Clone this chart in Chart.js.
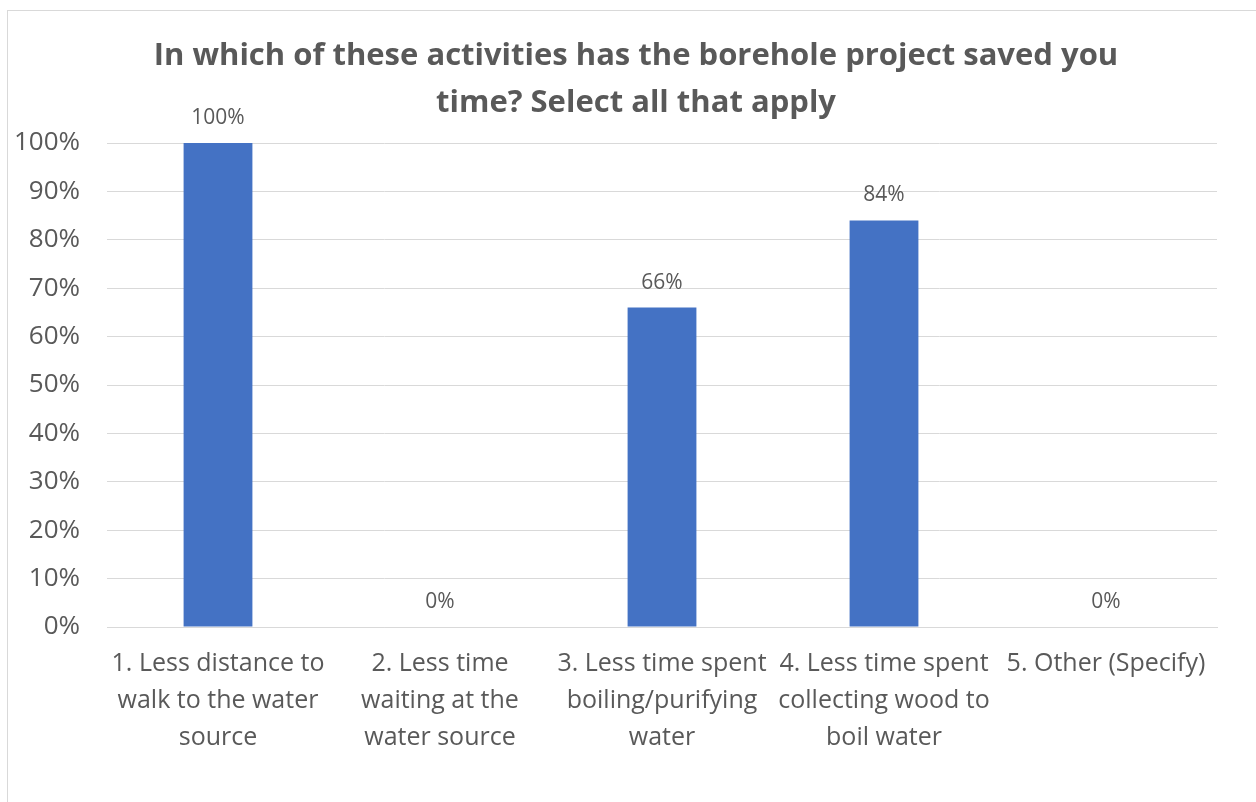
<!DOCTYPE html>
<html>
<head>
<meta charset="utf-8">
<script src="https://cdn.jsdelivr.net/npm/chart.js@4.4.1/dist/chart.umd.min.js"></script>
<style>
  html, body { margin: 0; padding: 0; background: #ffffff; overflow: hidden; }
  #wrap { position: relative; width: 1256px; height: 802px; }
  canvas { display: block; }
</style>
</head>
<body>
<div id="wrap"><canvas id="c" width="1256" height="802"></canvas></div>
<script>
const categories = [
  ["1. Less distance to", "walk to the water", "source"],
  ["2. Less time", "waiting at the", "water source"],
  ["3. Less time spent", "boiling/purifying", "water"],
  ["4. Less time spent", "collecting wood to", "boil water"],
  ["5. Other (Specify)"]
];
const values = [1.00, 0.00, 0.66, 0.84, 0.00];
const titleLines = ["In which of these activities has the borehole project saved you", "time? Select all that apply"];
const yTickMax = 1.0;
const yTickStep = 0.1;

const FONT = "'Open Sans', Lato, sans-serif";
const TEXT = "#595959";
const GRID = "#d9d9d9";

const chartBorder = {
  id: 'chartBorder',
  beforeDraw(chart) {
    const ctx = chart.ctx;
    ctx.save();
    ctx.fillStyle = '#ffffff';
    ctx.fillRect(0, 0, chart.width, chart.height);
    ctx.strokeStyle = GRID;
    ctx.lineWidth = 1;
    ctx.strokeRect(7.5, 10.5, 1400, 1000);
    ctx.restore();
  }
};

const titleDraw = {
  id: 'titleDraw',
  afterDraw(chart) {
    const ctx = chart.ctx;
    ctx.save();
    ctx.font = "bold 31px " + FONT;
    ctx.fillStyle = TEXT;
    ctx.textAlign = 'center';
    ctx.textBaseline = 'middle';
    ctx.fillText(titleLines[0], 636, 56);
    ctx.fillText(titleLines[1], 636, 103);
    ctx.restore();
  }
};

const valueLabels = {
  id: 'valueLabels',
  afterDatasetsDraw(chart) {
    const ctx = chart.ctx;
    const meta = chart.getDatasetMeta(0);
    ctx.save();
    ctx.font = "21px " + FONT;
    ctx.fillStyle = TEXT;
    ctx.textAlign = 'center';
    ctx.textBaseline = 'middle';
    meta.data.forEach((bar, i) => {
      const v = chart.data.datasets[0].data[i];
      ctx.fillText(Math.round(v * 100) + '%', bar.x, bar.y - 25);
    });
    ctx.restore();
  }
};

new Chart(document.getElementById('c'), {
  type: 'bar',
  data: {
    labels: categories,
    datasets: [{
      data: values,
      backgroundColor: '#4472C4',
      borderWidth: 0,
      categoryPercentage: 1.0,
      barPercentage: 0.31
    }]
  },
  options: {
    responsive: false,
    animation: false,
    devicePixelRatio: 1,
    layout: { padding: { left: 10, right: 39, top: 143, bottom: 0 } },
    plugins: {
      legend: { display: false },
      tooltip: { enabled: false },
      title: { display: false }
    },
    scales: {
      x: {
        grid: { display: false, drawTicks: false },
        border: { display: true, color: GRID, width: 1 },
        ticks: {
          color: TEXT,
          font: { family: FONT, size: 25, lineHeight: 1.48 },
          padding: 18,
          maxRotation: 0,
          autoSkip: false
        },
        afterFit(scale) { scale.height = 175; }
      },
      y: {
        min: 0,
        max: yTickMax,
        grid: { color: GRID, lineWidth: 1, drawTicks: false },
        border: { display: false },
        ticks: {
          stepSize: yTickStep,
          color: TEXT,
          font: { family: FONT, size: 26 },
          padding: 27,
          callback: (v) => Math.round(v * 100) + '%'
        },
        afterFit(scale) { scale.width = 97; }
      }
    }
  },
  plugins: [chartBorder, valueLabels, titleDraw]
});
</script>
</body>
</html>
